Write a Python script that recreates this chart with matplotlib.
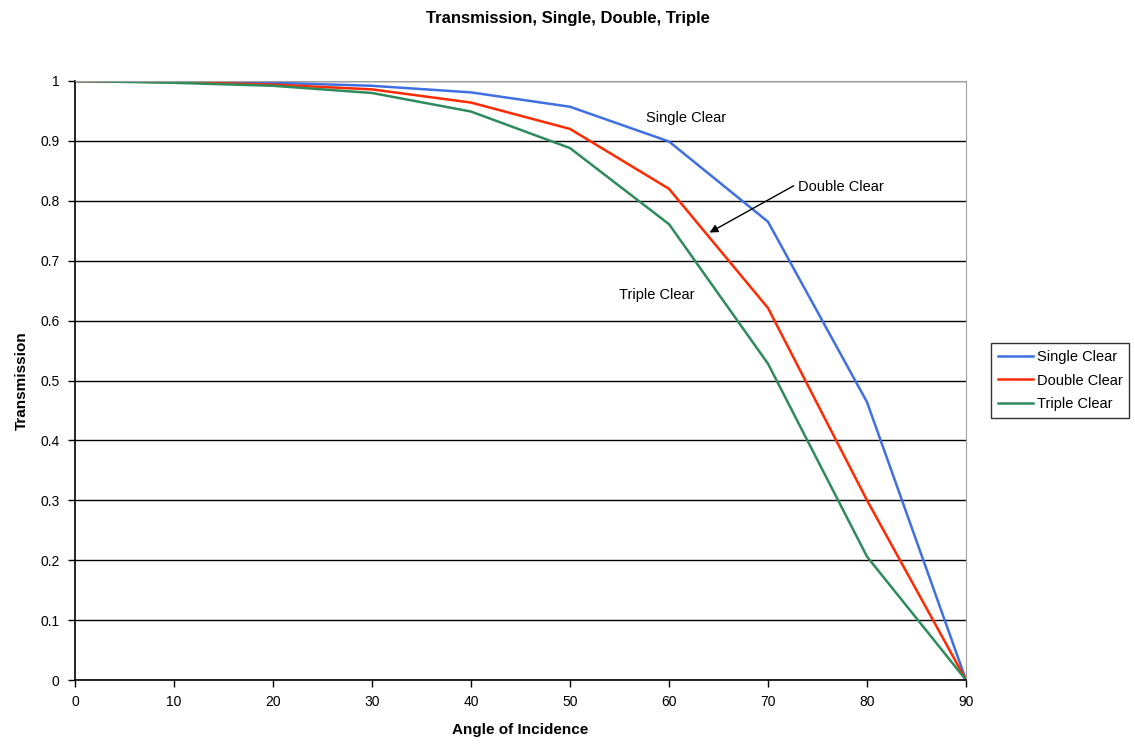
import matplotlib
matplotlib.use("Agg")
import matplotlib.pyplot as plt

plt.rcParams['font.family'] = ['Liberation Sans', 'DejaVu Sans']

angles = [0, 10, 20, 30, 40, 50, 60, 70, 80, 90]
single = [1.0, 0.999, 0.997, 0.992, 0.981, 0.957, 0.899, 0.765, 0.464, 0.0]
double = [1.0, 0.998, 0.994, 0.986, 0.964, 0.920, 0.820, 0.621, 0.300, 0.0]
triple = [1.0, 0.997, 0.992, 0.980, 0.949, 0.888, 0.761, 0.528, 0.206, 0.0]
series_names = ["Single Clear", "Double Clear", "Triple Clear"]
colors = ["#3F6FE0", "#FF2A00", "#2E8B5E"]
xticks = list(range(0, 91, 10))
yticks = [0, 0.1, 0.2, 0.3, 0.4, 0.5, 0.6, 0.7, 0.8, 0.9, 1]
ytick_labels = ["0", "0.1", "0.2", "0.3", "0.4", "0.5", "0.6", "0.7", "0.8", "0.9", "1"]

fig = plt.figure(figsize=(11.35, 7.49), dpi=100)
ax = fig.add_axes([75/1135, 1-680/749, (966-75)/1135, (680-81)/749])

for vals, name, c in zip([single, double, triple], series_names, colors):
    ax.plot(angles, vals, color=c, lw=1.8, label=name)

ax.set_xlim(0, 90)
ax.set_ylim(0, 1)
ax.set_xticks(xticks)
ax.set_xticklabels([str(t) for t in xticks])
ax.set_yticks(yticks)
ax.set_yticklabels(ytick_labels)
ax.tick_params(labelsize=10, direction='out', length=5, width=1, color='black', pad=6)
ax.grid(axis='y', color='black', lw=1)
ax.set_axisbelow(True)
for s in ['top', 'right']:
    ax.spines[s].set_color('#A0A0A0')
for s in ['left', 'bottom']:
    ax.spines[s].set_color('black')
    ax.spines[s].set_linewidth(1.2)

ax.set_xlabel("Angle of Incidence", fontsize=11, fontweight='bold', labelpad=10)
ax.set_ylabel("Transmission", fontsize=11, fontweight='bold', labelpad=8)
fig.text(0.5, 1-18/749, "Transmission, Single, Double, Triple", ha='center', va='center',
         fontsize=12, fontweight='bold')

ax.text(61.7, 0.939, "Single Clear", fontsize=10.5, ha='center', va='center')
ax.text(58.8, 0.643, "Triple Clear", fontsize=10.5, ha='center', va='center')
ax.annotate("Double Clear", xy=(64.1, 0.747), xytext=(73.0, 0.823), fontsize=10.5,
            ha='left', va='center',
            arrowprops=dict(arrowstyle='-|>', color='black', lw=1, shrinkA=1, shrinkB=0,
                            mutation_scale=12, relpos=(0, 0.75)))

leg = ax.legend(loc='center left', bbox_to_anchor=(1.028, 0.5), fontsize=10.5,
                frameon=True, fancybox=False, edgecolor='black', handlelength=2.4,
                handletextpad=0.3, borderpad=0.45, labelspacing=0.65, borderaxespad=0)
leg.get_frame().set_linewidth(1)

fig.savefig("out.png", dpi=100)
